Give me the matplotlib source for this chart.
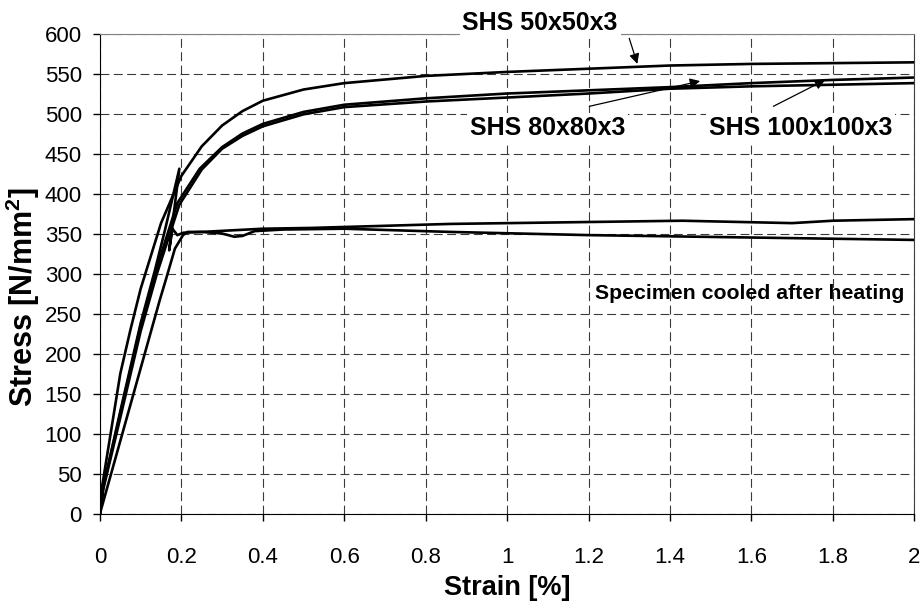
import numpy as np
import matplotlib
matplotlib.use("Agg")
import matplotlib.pyplot as plt

# Fuente tipo Arial
plt.rcParams['font.family'] = ['Liberation Sans', 'DejaVu Sans']
plt.rcParams['mathtext.fontset'] = 'custom'
plt.rcParams['mathtext.rm'] = 'Liberation Sans'
plt.rcParams['mathtext.bf'] = 'Liberation Sans:bold'

#--------------------------------------------------------------------------------------------------------------------------
### DATOS
# SHS 50x50x3
s50_strain = [0, 0.005, 0.05, 0.075, 0.10, 0.15, 0.20, 0.25, 0.30, 0.35, 0.40, 0.50, 0.60, 0.80, 1.00, 1.20, 1.40, 1.60, 1.80, 2.00]
s50_stress = [0, 33, 175, 230, 281, 363, 422, 459, 485, 503, 516, 530, 538, 547, 552, 556, 560, 562, 563, 564]
# SHS 80x80x3
s80_strain = [0, 0.008, 0.05, 0.10, 0.137, 0.19, 0.245, 0.30, 0.35, 0.40, 0.50, 0.60, 0.80, 1.00, 1.20, 1.40, 1.60, 1.80, 2.00]
s80_stress = [0, 33, 125, 235, 303, 388, 431, 458, 475, 487, 502, 511, 519, 525, 529, 533, 538, 542, 545]
# SHS 100x100x3
s100_strain = [0, 0.008, 0.05, 0.10, 0.14, 0.195, 0.25, 0.30, 0.35, 0.40, 0.50, 0.60, 0.80, 1.00, 1.20, 1.40, 1.60, 1.80, 2.00]
s100_stress = [0, 30, 120, 228, 300, 386, 430, 456, 472, 484, 499, 508, 515, 520, 525, 531, 534, 536, 538]
# Probetas enfriadas despues del calentamiento
c1_strain = [0, 0.008, 0.05, 0.10, 0.135, 0.16, 0.195, 0.17, 0.178, 0.19, 0.205, 0.25, 0.30, 0.33, 0.35, 0.38, 0.45, 0.60, 0.86, 1.20, 1.60, 2.00]
c1_stress = [0, 33, 128, 238, 304, 355, 431, 329, 356, 348, 351, 352, 350, 346, 347, 353, 355, 356, 352, 348, 345, 342]
c2_strain = [0, 0.147, 0.164, 0.184, 0.204, 0.215, 0.25, 0.40, 0.52, 0.86, 1.43, 1.70, 1.80, 2.00]
c2_stress = [0, 267, 296, 331, 348, 352, 352, 356, 357, 362, 366, 363, 366, 368]

x_ticks = [0, 0.2, 0.4, 0.6, 0.8, 1, 1.2, 1.4, 1.6, 1.8, 2]
x_ticklabels = ['0', '0.2', '0.4', '0.6', '0.8', '1', '1.2', '1.4', '1.6', '1.8', '2']
y_ticks = list(range(0, 601, 50))

#--------------------------------------------------------------------------------------------------------------------------
# Grafica
fig = plt.figure(figsize=(9.23, 6.03), dpi=100)
ax = fig.add_axes([0.1083, 0.1484, 0.8822, 0.796])

for xs, ys in [(s50_strain, s50_stress), (s80_strain, s80_stress), (s100_strain, s100_stress),
               (c1_strain, c1_stress), (c2_strain, c2_stress)]:
    ax.plot(xs, ys, color='black', lw=1.9, solid_joinstyle='round', zorder=3)

ax.set_xlim(0, 2)
ax.set_ylim(0, 600)
ax.set_xticks(x_ticks)
ax.set_xticklabels(x_ticklabels)
ax.set_yticks(y_ticks)
ax.tick_params(axis='both', labelsize=16, direction='out', length=5, width=1)
ax.tick_params(axis='x', pad=19)
ax.tick_params(axis='y', pad=8)

ax.grid(True, color='#3a3a3a', lw=0.8, linestyle=(0, (8, 4)))
ax.spines['top'].set_color('#808080')
ax.spines['right'].set_color('#404040')

# Etiquetas de ejes
fig.text(0.55, 0.0133, 'Strain [%]', ha='center', va='baseline', fontsize=19.5, fontweight='bold')
fig.text(0.025, 0.508, r'Stress [N/mm$^{\mathbf{2}}$]', ha='center', va='center', rotation=90,
         fontsize=22, fontweight='bold')

# Anotaciones
box = dict(facecolor='white', edgecolor='none', pad=2)
ax.text(1.081, 604, 'SHS 50x50x3', ha='center', va='baseline', fontsize=18, fontweight='bold',
        bbox=box, clip_on=False, zorder=5)
ax.text(1.10, 473, 'SHS 80x80x3', ha='center', va='baseline', fontsize=18, fontweight='bold',
        bbox=box, zorder=5)
ax.text(1.72, 473, 'SHS 100x100x3', ha='center', va='baseline', fontsize=18, fontweight='bold',
        bbox=box, zorder=5)
ax.text(1.597, 268, 'Specimen cooled after heating', ha='center', va='baseline', fontsize=15.3,
        fontweight='bold', zorder=5)

arrow = dict(arrowstyle='-|>', color='black', lw=0.9, mutation_scale=15, shrinkA=0, shrinkB=0)
ax.annotate('', xy=(1.32, 562), xytext=(1.30, 594), arrowprops=arrow, zorder=6)
ax.annotate('', xy=(1.474, 540.6), xytext=(1.202, 509), arrowprops=arrow, zorder=6)
ax.annotate('', xy=(1.781, 541.9), xytext=(1.654, 509), arrowprops=arrow, zorder=6)

plt.savefig('out.png', dpi=100)
